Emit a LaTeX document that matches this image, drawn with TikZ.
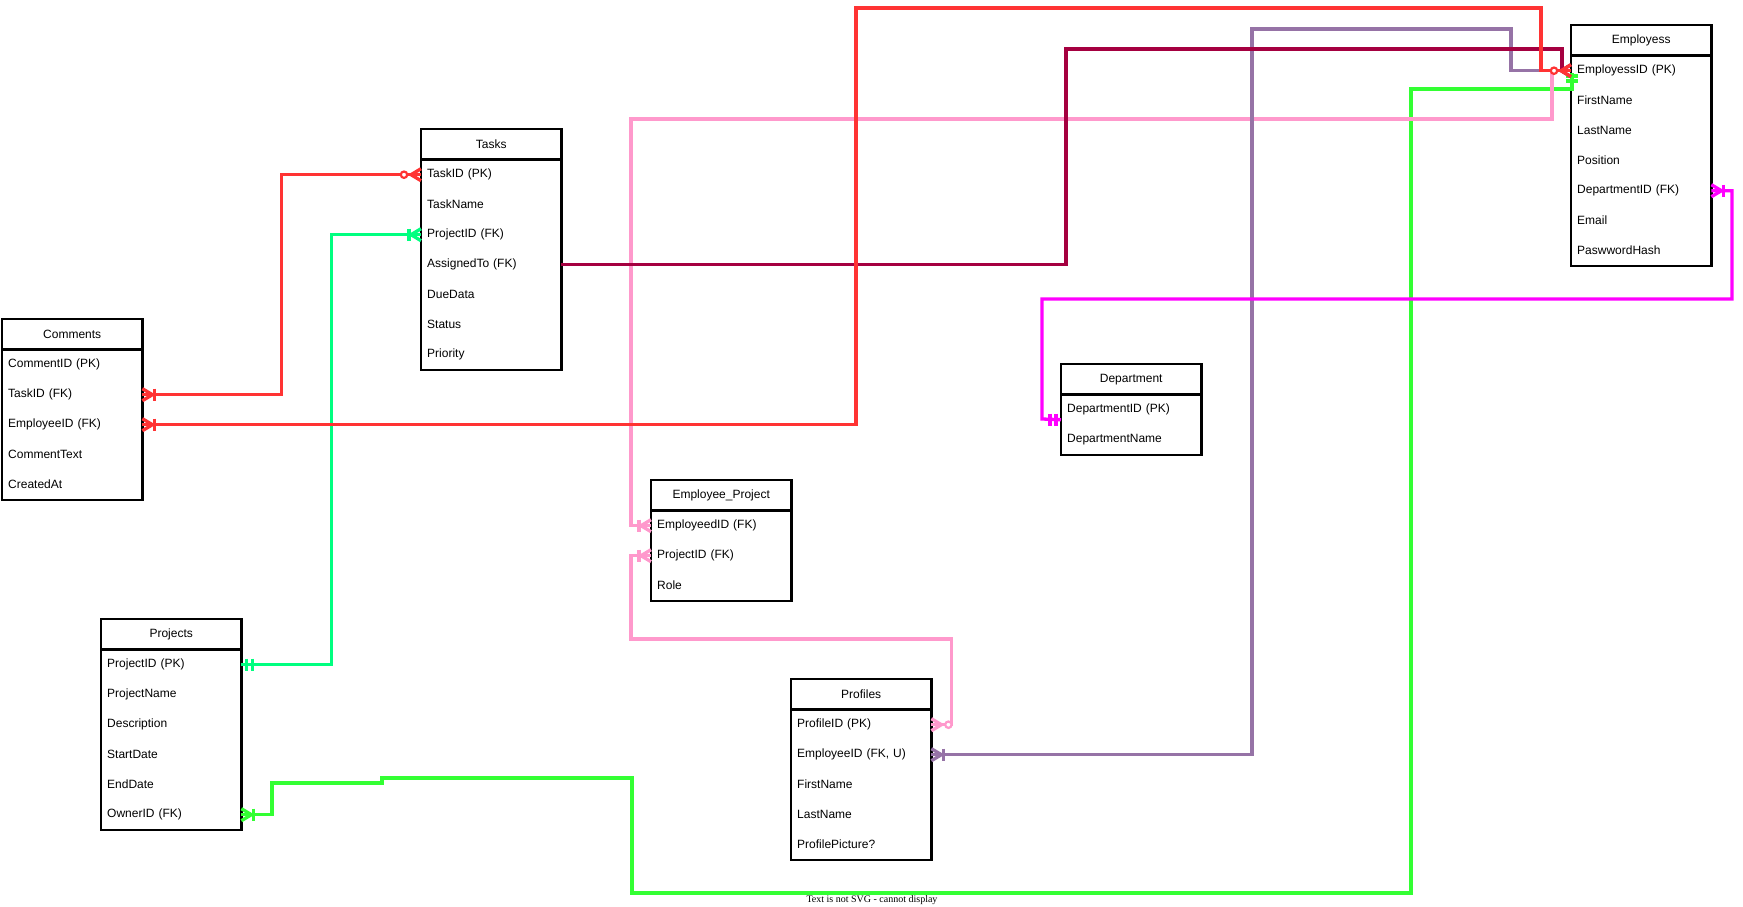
\documentclass[tikz,border=0pt]{standalone}
\usepackage{fontspec}
\setmainfont{Liberation Sans}
\newfontfamily\notefont{Liberation Serif}
\usetikzlibrary{calc}
\definecolor{redc}{HTML}{FF3333}
\definecolor{maroonc}{HTML}{A50040}
\definecolor{purplec}{HTML}{9673A6}
\definecolor{pinkc}{HTML}{FF99CC}
\definecolor{springc}{HTML}{00FF80}
\definecolor{brightg}{HTML}{33FF33}
\definecolor{magc}{HTML}{FF00FF}
\tikzset{
  hdr/.style={draw=none, minimum width=140pt, minimum height=30pt, inner sep=0pt, font=\fontsize{12}{14}\selectfont},
  rowc/.style={draw=none, text width=128pt, inner xsep=6pt, inner ysep=0pt, minimum height=30pt, align=left, font=\fontsize{12}{14}\selectfont},
  tbl/.style={draw=black, line width=2.6pt},
  conn/.style={line width=3.3pt},
  mk/.style={line width=3.3pt},
}
% table: name, x, y, title, rows
\newcommand\ertable[5]{%
  \node[hdr, anchor=north west] (#1) at (#2,#3) {#4};
  \foreach \rowtext [count=\i] in {#5} {
    \node[rowc, anchor=north west] (#1-\i) at (#2,{#3+30.5+(\i-1)*30}) {\rowtext};
  }
}
\newcommand\tblframe[2]{%
  \draw[tbl] (#1.north west) rectangle (#1-#2.south east);
  \draw[tbl] (#1.south west) -- (#1.south east);
}
% markers: colour, point, direction (+1 outward right, -1 outward left)
\newcommand\mkcrow[3]{%
  \begin{scope}[shift={#2}, xscale=#3]
    \draw[mk, #1] (0,-6) -- (10,0) -- (0,6);
  \end{scope}}
\newcommand\mkonemany[3]{%
  \begin{scope}[shift={#2}, xscale=#3]
    \draw[mk, #1] (0,-6) -- (10,0) -- (0,6);
    \draw[mk, #1] (12,-6) -- (12,6);
  \end{scope}}
\newcommand\mkzeromany[3]{%
  \begin{scope}[shift={#2}, xscale=#3]
    \draw[mk, #1] (0,-6) -- (10,0) -- (0,6);
    \draw[line width=2.2pt, #1, fill=white] (17,0) circle (3.2);
  \end{scope}}
\newcommand\mkmandone[3]{%
  \begin{scope}[shift={#2}, xscale=#3]
    \draw[mk, #1] (5,-6) -- (5,6);
    \draw[mk, #1] (11,-6) -- (11,6);
  \end{scope}}
\begin{document}
\begin{tikzpicture}[x=1pt,y=-1pt]
\useasboundingbox (0,0) rectangle (1743,907);

% tables
\ertable{Tasks}{421}{129}{Tasks}{TaskID (PK),TaskName,ProjectID (FK),AssignedTo (FK),DueData,Status,Priority}
\tblframe{Tasks}{7}
\ertable{Comments}{2}{319}{Comments}{CommentID (PK),TaskID (FK),EmployeeID (FK),CommentText,CreatedAt}
\tblframe{Comments}{5}
\ertable{Employess}{1571}{25}{Employess}{EmployessID (PK),FirstName,LastName,Position,DepartmentID (FK),Email,PaswwordHash}
\tblframe{Employess}{7}
\ertable{Department}{1061}{364}{Department}{DepartmentID (PK),DepartmentName}
\tblframe{Department}{2}
\ertable{EP}{651}{480}{Employee\_Project}{EmployeedID (FK),ProjectID (FK),Role}
\tblframe{EP}{3}
\ertable{Profiles}{791}{679}{Profiles}{ProfileID (PK),{EmployeeID (FK, U)},FirstName,LastName,ProfilePicture?}
\tblframe{Profiles}{5}
\ertable{Projects}{101}{619}{Projects}{ProjectID (PK),ProjectName,Description,StartDate,EndDate,OwnerID (FK)}
\tblframe{Projects}{6}

% bright green: Projects.OwnerID -> Employess
\coordinate (gEnd) at ($(Employess-1.west)+(1,2)$);
\draw[conn, brightg] (Projects-6.east) -| (272,783) -- (382,783) -- (382,778) -| (632,893) -| (1411,89) -- (1572,89) -- (gEnd);
\mkonemany{brightg}{(Projects-6.east)}{1}
\draw[mk, brightg] (1566,76) -- (1578,76);
\draw[mk, brightg] (1566,81) -- (1578,81);

% pink: Employee_Project -> Employess, Profiles
\draw[conn, pinkc] (EP-1.west) -| (631,119) -| ([xshift=-19pt]Employess-1.west) -- (Employess-1.west);
\mkonemany{pinkc}{(EP-1.west)}{-1}
\draw[conn, pinkc] (EP-2.west) -| (631,639) -| ([xshift=20pt]Profiles-1.east) -- (Profiles-1.east);
\mkonemany{pinkc}{(EP-2.west)}{-1}
\mkzeromany{pinkc}{(Profiles-1.east)}{1}

% purple: Profiles.EmployeeID -> Employess
\draw[conn, purplec] (Profiles-2.east) -| (1252,29) -| ([xshift=-60pt]Employess-1.west) -- (Employess-1.west);
\mkonemany{purplec}{(Profiles-2.east)}{1}

% maroon: Tasks.AssignedTo -> Employess
\draw[conn, maroonc] (Tasks-4.east) -| (1066,49) -| ([xshift=-9pt]Employess-1.west) -- (Employess-1.west);
\mkcrow{maroonc}{(Employess-1.west)}{-1}

% spring green: Projects.ProjectID -> Tasks.ProjectID
\draw[conn, springc] (Projects-1.east) -- ++(90,0) |- (Tasks-3.west);
\mkmandone{springc}{(Projects-1.east)}{1}
\mkonemany{springc}{(Tasks-3.west)}{-1}

% magenta: Employess.DepartmentID -> Department
\coordinate (dEnd) at ([yshift=-10pt]Department-1.west);
\draw[conn, magc] (Employess-5.east) -| (1732,299) -| (1042,419) -- (dEnd);
\mkonemany{magc}{(Employess-5.east)}{1}
\mkmandone{magc}{(dEnd)}{-1}

% red: Comments -> Tasks, Comments -> Employess
\draw[conn, redc] (Comments-2.east) -- ++(139,0) |- (Tasks-1.west);
\mkonemany{redc}{(Comments-2.east)}{1}
\mkzeromany{redc}{(Tasks-1.west)}{-1}
\draw[conn, redc] (Comments-3.east) -| (856,8) -| ([xshift=-30pt]Employess-1.west) -- (Employess-1.west);
\mkonemany{redc}{(Comments-3.east)}{1}
\mkzeromany{redc}{(Employess-1.west)}{-1}

% note
\node[font=\notefont\fontsize{10}{12}\selectfont, inner sep=0pt] (note) at (872,900) {Text is not SVG - cannot display};
\end{tikzpicture}
\end{document}
